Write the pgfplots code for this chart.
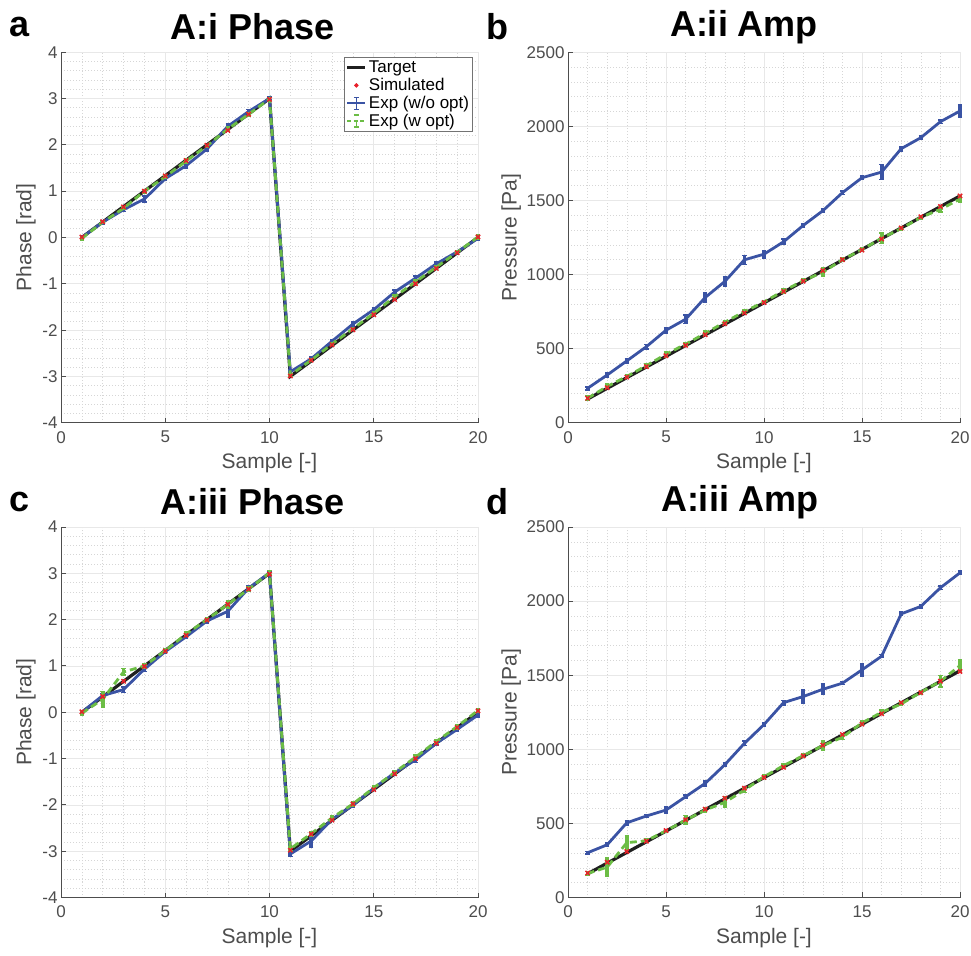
\documentclass[border=0pt]{standalone}
\usepackage{pgfplots}
\pgfplotsset{compat=1.18}
\usepackage{pgfplotstable}
\usepackage{fontspec}
\setmainfont{Liberation Sans}
\definecolor{expblue}{HTML}{3A53A4}
\definecolor{expgreen}{HTML}{6CBD45}
\definecolor{simred}{HTML}{E8202A}
\definecolor{axgray}{HTML}{4D4D4D}

% columns: x  target  sim  blue  blueErr  green  greenErr
\pgfplotstableread{
x T S B Be G Ge
1 0 0.01 0 0.03 -0.02 0.03
2 0.333 0.34 0.33 0.04 0.33 0.03
3 0.667 0.66 0.60 0.04 0.63 0.03
4 1 1.0 0.83 0.07 1.0 0.04
5 1.333 1.33 1.27 0.04 1.31 0.04
6 1.667 1.66 1.55 0.05 1.65 0.04
7 2 1.99 1.91 0.04 1.98 0.03
8 2.333 2.31 2.40 0.05 2.34 0.04
9 2.667 2.66 2.72 0.04 2.66 0.04
10 3 2.98 3.0 0.03 2.99 0.03
11 -3 -2.99 -2.90 0.05 -2.97 0.03
12 -2.667 -2.65 -2.62 0.05 -2.65 0.03
13 -2.333 -2.32 -2.24 0.04 -2.30 0.03
14 -2 -1.99 -1.87 0.05 -1.97 0.03
15 -1.667 -1.67 -1.56 0.04 -1.64 0.03
16 -1.333 -1.34 -1.18 0.05 -1.28 0.04
17 -1 -1.0 -0.88 0.05 -0.96 0.04
18 -0.667 -0.67 -0.57 0.04 -0.64 0.03
19 -0.333 -0.33 -0.31 0.03 -0.32 0.03
20 0 0.01 -0.02 0.04 0.01 0.04
}\tabA

\pgfplotstableread{
x T S B Be G Ge
1 160 165 232 10 165 15
2 232 236 322 15 245 15
3 304 307 417 15 312 12
4 376 378 513 15 385 10
5 448 452 624 20 462 20
6 521 522 698 30 530 12
7 593 594 845 30 603 15
8 665 668 953 30 678 12
9 737 740 1099 30 750 12
10 809 811 1137 25 815 10
11 881 885 1221 20 890 15
12 953 955 1331 12 958 10
13 1025 1026 1430 12 1015 30
14 1097 1100 1552 12 1100 12
15 1169 1164 1653 12 1168 12
16 1242 1240 1691 50 1245 35
17 1314 1314 1849 15 1310 12
18 1386 1390 1923 12 1385 12
19 1458 1459 2031 12 1440 20
20 1530 1530 2103 45 1509 20
}\tabB

\pgfplotstableread{
x T S B Be G Ge
1 0 0.01 0 0.04 -0.02 0.05
2 0.333 0.34 0.36 0.04 0.28 0.17
3 0.667 0.67 0.49 0.06 0.87 0.07
4 1 0.99 0.93 0.05 1.0 0.05
5 1.333 1.32 1.31 0.04 1.33 0.04
6 1.667 1.66 1.63 0.04 1.69 0.04
7 2 1.99 1.97 0.04 2.0 0.04
8 2.333 2.33 2.18 0.13 2.33 0.08
9 2.667 2.66 2.68 0.05 2.66 0.04
10 3 2.98 3.01 0.04 3.01 0.05
11 -3 -2.98 -3.06 0.05 -2.95 0.05
12 -2.667 -2.63 -2.78 0.13 -2.62 0.05
13 -2.333 -2.33 -2.31 0.04 -2.28 0.05
14 -2 -1.98 -2.01 0.04 -1.98 0.04
15 -1.667 -1.67 -1.64 0.04 -1.63 0.04
16 -1.333 -1.33 -1.31 0.04 -1.30 0.04
17 -1 -1.0 -1.03 0.05 -0.97 0.05
18 -0.667 -0.67 -0.67 0.04 -0.63 0.04
19 -0.333 -0.33 -0.37 0.04 -0.31 0.05
20 0 0.03 -0.06 0.04 0.04 0.04
}\tabC

\pgfplotstableread{
x T S B Be G Ge
1 160 165 302 10 162 12
2 232 238 356 12 205 60
3 304 310 504 15 370 50
4 376 380 550 10 383 12
5 448 452 590 20 450 10
6 521 525 680 10 522 30
7 593 596 770 20 590 15
8 665 670 896 12 642 35
9 737 738 1040 15 725 15
10 809 810 1167 12 815 12
11 881 878 1315 15 890 12
12 953 955 1356 45 957 12
13 1025 1028 1405 35 1025 30
14 1097 1100 1446 10 1081 15
15 1169 1170 1536 40 1178 15
16 1242 1240 1628 10 1250 15
17 1314 1315 1914 12 1306 12
18 1386 1382 1964 12 1385 12
19 1458 1460 2090 12 1459 40
20 1530 1525 2191 12 1565 40
}\tabD

\pgfplotsset{
 panel/.style={
  scale only axis,
  xmin=0, xmax=20, xtick={0,5,10,15,20},
  minor x tick num=4,
  axis x line*=bottom, axis y line*=left,
  axis line style={-, draw=axgray, line width=0.9pt},
  tick align=inside,
  major tick length=5pt, minor tick length=0pt,
  tick style={draw=axgray, line width=0.9pt},
  grid=both,
  major grid style={draw=black!9, line width=0.7pt},
  minor grid style={draw=black!16, line width=0.6pt, dash pattern=on 1pt off 2pt},
  ticklabel style={font=\fontsize{17}{17}\selectfont, text=axgray},
  xticklabel style={yshift=-5pt},
  label style={font=\fontsize{21}{21}\selectfont, text=axgray},
  xlabel={Sample [-]},
  xlabel style={at={(axis description cs:0.5,-0.109)}, anchor=center},
  /pgf/number format/assume math mode=true,
  /pgf/number format/1000 sep={},
  clip=false,
 },
 phase/.style={panel, width=417pt, height=370.5pt,
  ymin=-4, ymax=4, ytick={-4,-3,...,4}, minor y tick num=4,
  ylabel={Phase [rad]},
  ylabel style={at={(axis description cs:-0.084,0.5)}, anchor=center}},
 amp/.style={panel, width=392pt, height=370.5pt,
  ymin=0, ymax=2500, ytick={0,500,...,2500}, minor y tick num=4,
  ylabel={Pressure [Pa]},
  ylabel style={at={(axis description cs:-0.145,0.5)}, anchor=center}},
 target/.style={black!88, line width=3.2pt, no markers},
 sim/.style={only marks, mark=x, mark size=3pt, simred, mark options={line width=1.5pt, solid}},
 expb/.style={expblue, line width=2.8pt, no markers,
  error bars/y dir=both, error bars/y explicit,
  error bars/error bar style={line width=3.8pt, expblue, solid},
  error bars/error mark options={rotate=90, mark size=2.2pt, line width=1.5pt, expblue, solid}},
 expg/.style={expgreen, line width=2.8pt, no markers, dash pattern=on 7pt off 4pt,
  error bars/y dir=both, error bars/y explicit,
  error bars/error bar style={line width=3.8pt, expgreen, solid},
  error bars/error mark options={rotate=90, mark size=2.2pt, line width=1.5pt, expgreen, solid}},
}

\begin{document}
\begin{tikzpicture}
\useasboundingbox (0pt,0pt) rectangle (971pt,955pt);

% ---------- a ----------
\begin{axis}[phase, at={(61pt,532.3pt)}, anchor=south west,
  legend style={at={(0.988,0.986)}, anchor=north east,
    font=\fontsize{17}{18}\selectfont, draw=black!55, line width=0.8pt,
    inner sep=1.5pt, row sep=0pt, fill=white},
  legend cell align=left]
\addplot[target, legend image code/.code={\draw[black!88, line width=3.2pt] (0pt,0pt) -- (18pt,0pt);}] table[x=x, y=T] {\tabA};
\addlegendentry{Target}
\addplot[sim, legend image code/.code={\fill[simred] (9pt,0pt) circle (1.8pt);}] table[x=x, y=S] {\tabA};
\addlegendentry{Simulated}
\addplot[expb, legend image code/.code={\draw[expblue, line width=2pt] (0pt,0pt) -- (18pt,0pt);
  \draw[expblue, line width=1.4pt] (9pt,-6pt) -- (9pt,6pt) (6.5pt,6pt) -- (11.5pt,6pt) (6.5pt,-6pt) -- (11.5pt,-6pt);}]
  table[x=x, y=B, y error=Be] {\tabA};
\addlegendentry{Exp (w/o opt)}
\addplot[expg, legend image code/.code={\draw[expgreen, line width=2pt, dash pattern=on 4pt off 2.5pt] (0pt,0pt) -- (18pt,0pt);
  \draw[expgreen, line width=1.4pt] (9pt,-6pt) -- (9pt,6pt) (6.5pt,6pt) -- (11.5pt,6pt) (6.5pt,-6pt) -- (11.5pt,-6pt);}]
  table[x=x, y=G, y error=Ge] {\tabA};
\addlegendentry{Exp (w opt)}
\end{axis}

% ---------- b ----------
\begin{axis}[amp, at={(568pt,532.3pt)}, anchor=south west]
\addplot[target] table[x=x, y=T] {\tabB};
\addplot[sim] table[x=x, y=S] {\tabB};
\addplot[expb] table[x=x, y=B, y error=Be] {\tabB};
\addplot[expg] table[x=x, y=G, y error=Ge] {\tabB};
\end{axis}

% ---------- c ----------
\begin{axis}[phase, at={(61pt,57.5pt)}, anchor=south west]
\addplot[target] table[x=x, y=T] {\tabC};
\addplot[sim] table[x=x, y=S] {\tabC};
\addplot[expb] table[x=x, y=B, y error=Be] {\tabC};
\addplot[expg] table[x=x, y=G, y error=Ge] {\tabC};
\end{axis}

% ---------- d ----------
\begin{axis}[amp, at={(568pt,57.5pt)}, anchor=south west]
\addplot[target] table[x=x, y=T] {\tabD};
\addplot[sim] table[x=x, y=S] {\tabD};
\addplot[expb] table[x=x, y=B, y error=Be] {\tabD};
\addplot[expg] table[x=x, y=G, y error=Ge] {\tabD};
\end{axis}

% titles and panel letters
\begin{scope}[every node/.style={font=\fontsize{36}{36}\bfseries\selectfont, text=black, inner sep=0pt}]
\node at (20pt,928pt) {a};
\node at (253pt,928pt) {A:i Phase};
\node at (497pt,928pt) {b};
\node at (744pt,928pt) {A:ii Amp};
\node at (20pt,453pt) {c};
\node at (253pt,453pt) {A:iii Phase};
\node at (497pt,453pt) {d};
\node at (740pt,453pt) {A:iii Amp};
\end{scope}
\end{tikzpicture}
\end{document}
